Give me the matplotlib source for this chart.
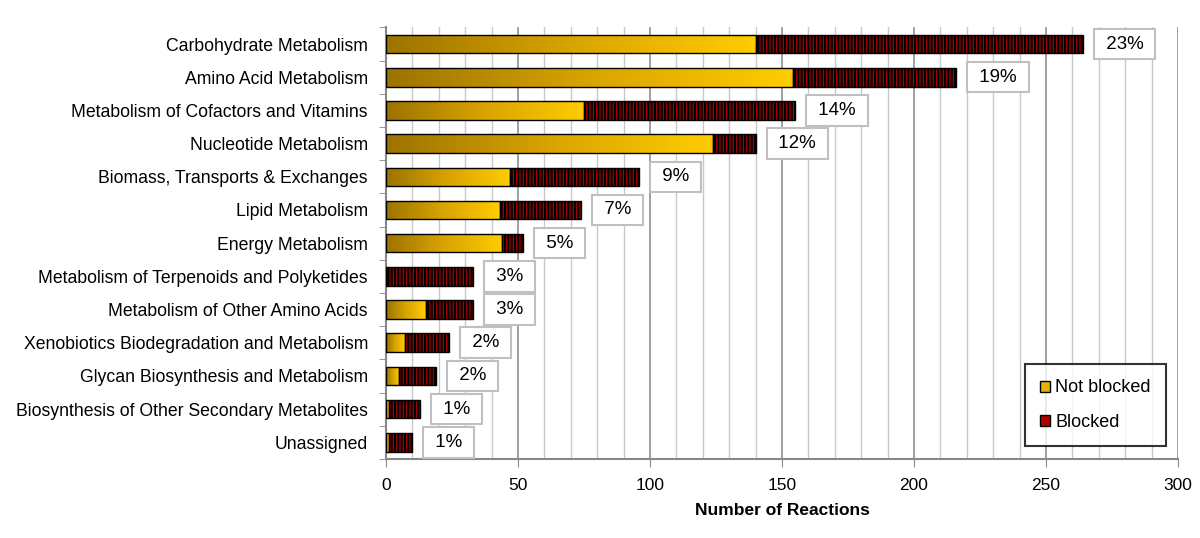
import numpy as np
import matplotlib.pyplot as plt
from matplotlib.patches import Patch
from matplotlib.colors import LinearSegmentedColormap

plt.rcParams['font.family'] = ['Liberation Sans', 'DejaVu Sans']
plt.rcParams['hatch.linewidth'] = 1.6
plt.rcParams['hatch.color'] = 'black'

categories = [
    "Carbohydrate Metabolism",
    "Amino Acid Metabolism",
    "Metabolism of Cofactors and Vitamins",
    "Nucleotide Metabolism",
    "Biomass, Transports & Exchanges",
    "Lipid Metabolism",
    "Energy Metabolism",
    "Metabolism of Terpenoids and Polyketides",
    "Metabolism of Other Amino Acids",
    "Xenobiotics Biodegradation and Metabolism",
    "Glycan Biosynthesis and Metabolism",
    "Biosynthesis of Other Secondary Metabolites",
    "Unassigned",
]
not_blocked = [140, 154, 75, 124, 47, 43, 44, 0, 15, 7, 5, 1, 1]
blocked = [124, 62, 80, 16, 49, 31, 8, 33, 18, 17, 14, 12, 9]
percent_labels = ["23%", "19%", "14%", "12%", "9%", "7%", "5%", "3%", "3%", "2%", "2%", "1%", "1%"]

fig = plt.figure(figsize=(12, 5.38), dpi=100)
ax = fig.add_axes([0.3217, 0.147, 0.66, 0.802])

y = np.arange(len(categories))
h = 0.56
gold = LinearSegmentedColormap.from_list("gold", ["#9c7300", "#d9a400", "#ffcc00"])
grad = np.linspace(0, 1, 256).reshape(1, -1)

nb_bars = ax.barh(y, not_blocked, height=h, color='none', edgecolor='black', lw=1, zorder=3)
for bar in nb_bars:
    w = bar.get_width()
    if w <= 0:
        continue
    bx, by = bar.get_x(), bar.get_y()
    im = ax.imshow(grad, cmap=gold, aspect='auto', extent=(bx, bx + w, by, by + h), zorder=2)
    im.set_clip_path(bar)

ax.barh(y, blocked, left=not_blocked, height=h, color='#b00000', edgecolor='black',
        lw=1, hatch='|||||', zorder=3)

for yi, nb, b, lab in zip(y, not_blocked, blocked, percent_labels):
    ax.text(nb + b + 6.7, yi, " " + lab + " ", ha='left', va='center', fontsize=13.5, zorder=5,
            bbox=dict(boxstyle='square,pad=0.36', fc='white', ec='#c0c0c0', lw=1.5))

ax.set_xlim(0, 300)
ax.set_ylim(len(categories) - 0.5, -0.5)
ax.set_yticks(y)
ax.set_yticklabels(categories, fontsize=12.7)
ax.set_yticks(np.arange(len(categories) + 1) - 0.5, minor=True)
ax.tick_params(axis='y', which='major', length=0, pad=13)
ax.tick_params(axis='y', which='minor', length=5, direction='out', color='#888888')
ax.set_xticks(np.arange(0, 301, 50))
ax.set_xticks(np.arange(0, 301, 10), minor=True)
ax.tick_params(axis='x', which='major', length=6, color='#888888', labelsize=12.5, pad=8)
ax.tick_params(axis='x', which='minor', length=0)
ax.grid(axis='x', which='minor', color='#c8c8c8', lw=1, zorder=0)
ax.grid(axis='x', which='major', color='#909090', lw=1.2, zorder=0)
ax.set_axisbelow(True)
ax.set_xlabel("Number of Reactions", fontsize=12.5, fontweight='bold', labelpad=7)

for s in ['top', 'right']:
    ax.spines[s].set_visible(False)
ax.spines['left'].set_color('#888888')
ax.spines['bottom'].set_color('#888888')
ax.spines['left'].set_linewidth(1.5)
ax.spines['bottom'].set_linewidth(1.5)

handles = [Patch(facecolor='#e8b000', edgecolor='black', label='Not blocked'),
           Patch(facecolor='#b00000', edgecolor='black', label='Blocked')]
leg = ax.legend(handles=handles, loc='lower right', bbox_to_anchor=(0.985, 0.03),
                fontsize=13, frameon=True, fancybox=False, edgecolor='black',
                handlelength=0.55, handleheight=0.55, handletextpad=0.3,
                labelspacing=0.95, borderpad=0.85, borderaxespad=0)
leg.get_frame().set_linewidth(1.5)
leg.set_zorder(6)

fig.savefig("out.png", dpi=100)
